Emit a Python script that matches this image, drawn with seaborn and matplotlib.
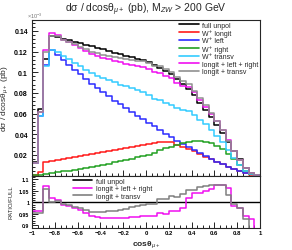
"""
Angular distribution of the mu+ in WZ events (M_ZW > 200 GeV) split by
W+ polarisation, with the ratio of the summed pieces to the full result.
"""
import numpy as np
import pandas as pd
import seaborn as sns
import matplotlib.pyplot as plt
from matplotlib.lines import Line2D
from matplotlib.ticker import MultipleLocator

# 40 bins in cos(theta_mu+)
EDGES = np.linspace(-1, 1, 41)
CENTERS = 0.5 * (EDGES[:-1] + EDGES[1:])

# cross sections per bin (pb)
full_unpol = [0.0128, 0.0640, 0.1130, 0.1355, 0.1340, 0.1325, 0.1310, 0.1295,
              0.1280, 0.1265, 0.1250, 0.1235, 0.1220, 0.1205, 0.1190, 0.1175,
              0.1160, 0.1145, 0.1130, 0.1115, 0.1095, 0.1070, 0.1045, 0.1015,
              0.0980, 0.0935, 0.0885, 0.0835, 0.0775, 0.0705, 0.0635, 0.0565,
              0.0490, 0.0410, 0.0325, 0.0240, 0.0155, 0.0075, 0.0023, 0.0005]
w_longit = [0.0004, 0.0030, 0.0134, 0.0140, 0.0148, 0.0157, 0.0166, 0.0176,
            0.0186, 0.0196, 0.0206, 0.0216, 0.0226, 0.0236, 0.0246, 0.0256,
            0.0266, 0.0276, 0.0286, 0.0296, 0.0308, 0.0318, 0.0325, 0.0327,
            0.0320, 0.0300, 0.0280, 0.0258, 0.0235, 0.0210, 0.0183, 0.0157,
            0.0132, 0.0108, 0.0085, 0.0062, 0.0040, 0.0020, 0.0007, 0.0001]
w_left = [0.0118, 0.0580, 0.1065, 0.1215, 0.1165, 0.1115, 0.1070, 0.1025,
          0.0980, 0.0935, 0.0890, 0.0847, 0.0805, 0.0765, 0.0725, 0.0688,
          0.0652, 0.0615, 0.0580, 0.0545, 0.0510, 0.0475, 0.0440, 0.0405,
          0.0370, 0.0335, 0.0302, 0.0272, 0.0243, 0.0215, 0.0188, 0.0160,
          0.0133, 0.0108, 0.0085, 0.0063, 0.0042, 0.0024, 0.0010, 0.0003]
w_right = [0.0002, 0.0005, 0.0015, 0.0022, 0.0030, 0.0040, 0.0048, 0.0058,
           0.0067, 0.0077, 0.0086, 0.0096, 0.0106, 0.0116, 0.0127, 0.0138,
           0.0150, 0.0162, 0.0175, 0.0188, 0.0203, 0.0218, 0.0245, 0.0262,
           0.0280, 0.0297, 0.0312, 0.0325, 0.0333, 0.0335, 0.0328, 0.0312,
           0.0288, 0.0255, 0.0212, 0.0160, 0.0100, 0.0048, 0.0015, 0.0003]
w_transv = [0.0118, 0.0580, 0.1064, 0.1215, 0.1199, 0.1159, 0.1128, 0.1093,
            0.1062, 0.1025, 0.0992, 0.0966, 0.0945, 0.0923, 0.0901, 0.0880,
            0.0862, 0.0844, 0.0826, 0.0808, 0.0779, 0.0745, 0.0734, 0.0701,
            0.0685, 0.0658, 0.0636, 0.0623, 0.0583, 0.0540, 0.0495, 0.0445,
            0.0385, 0.0320, 0.0245, 0.0170, 0.0100, 0.0045, 0.0012, 0.0003]
sum_llr = [0.01233, 0.0616, 0.1211, 0.1379, 0.1356, 0.1312, 0.1290, 0.1263,
           0.1235, 0.1204, 0.1175, 0.1157, 0.1139, 0.1123, 0.1108, 0.1094,
           0.1082, 0.1071, 0.1059, 0.1048, 0.1029, 0.1006, 0.0994, 0.0965,
           0.0942, 0.0899, 0.0864, 0.0852, 0.0806, 0.0733, 0.0667, 0.0599,
           0.0526, 0.0441, 0.0345, 0.0236, 0.0151, 0.00705, 0.00213, 0.00044]
sum_lt = [0.0122, 0.0610, 0.1198, 0.1355, 0.1347, 0.1316, 0.1294, 0.1269,
          0.1248, 0.1221, 0.1198, 0.1182, 0.1171, 0.1159, 0.1147, 0.1136,
          0.1128, 0.1120, 0.1112, 0.1104, 0.1087, 0.1063, 0.1059, 0.1028,
          0.1005, 0.0958, 0.0916, 0.0881, 0.0818, 0.0751, 0.0681, 0.0607,
          0.0527, 0.0441, 0.0335, 0.0238, 0.0151, 0.00694, 0.00198, 0.00041]

MAGENTA = '#f010f0'
MAIN_SERIES = [
    ('full unpol', full_unpol, 'black'),
    ('W\u207a longit', w_longit, '#ff1a1a'),
    ('W\u207a left', w_left, '#2b2bff'),
    ('W\u207a right', w_right, '#22a022'),
    ('W\u207a transv', w_transv, '#33ccff'),
    ('longit + left + right', sum_llr, MAGENTA),
    ('longit + transv', sum_lt, '#909090'),
]


def draw_hist(ax, values, color, lw=1.1):
    df = pd.DataFrame({'cos': CENTERS, 'w': np.asarray(values, dtype=float)})
    sns.histplot(data=df, x='cos', weights='w', bins=list(EDGES), element='step',
                 fill=False, color=color, linewidth=lw, ax=ax)


def style_axis(ax):
    ax.tick_params(which='both', direction='in', top=False, right=False,
                   width=0.6, colors='black')
    ax.tick_params(which='major', length=4)
    ax.tick_params(which='minor', length=2)
    for s in ax.spines.values():
        s.set_linewidth(0.8)
        s.set_visible(True)
    ax.set_xlim(-1, 1)
    ax.xaxis.set_major_locator(MultipleLocator(0.2))
    ax.xaxis.set_minor_locator(MultipleLocator(0.05))


sns.set_style('ticks')
plt.rcParams['font.family'] = ['Liberation Sans', 'DejaVu Sans']
plt.rcParams['mathtext.fontset'] = 'custom'
plt.rcParams['mathtext.rm'] = 'Liberation Sans'
plt.rcParams['mathtext.it'] = 'Liberation Sans:italic'
plt.rcParams['mathtext.bf'] = 'Liberation Sans:bold'

fig = plt.figure(figsize=(2.92, 2.51), dpi=100)
ax1 = fig.add_axes([0.1096, 0.2968, 0.7808, 0.6195])
ax2 = fig.add_axes([0.1096, 0.0896, 0.7808, 0.2072])

# main panel
for label, vals, color in MAIN_SERIES:
    draw_hist(ax1, vals, color)
style_axis(ax1)
ax1.set_ylim(0, 0.1505)
ax1.yaxis.set_minor_locator(MultipleLocator(0.004))
ax1.set_yticks([0.02, 0.04, 0.06, 0.08, 0.1, 0.12, 0.14])
ax1.set_yticklabels(['0.02', '0.04', '0.06', '0.08', '0.1', '0.12', '0.14'],
                    fontsize=5, fontweight='bold')
ax1.tick_params(axis='y', pad=3)
ax1.set_xticklabels([])
ax1.set_xlabel('')
ax1.set_ylabel('d\u03c3 / dcos\u03b8$_{\\mu+}$ (pb)', fontsize=6)
ax1.yaxis.set_label_coords(-0.098, 0.5)
ax1.text(-0.02, 1.003, '\u00d710$^{-3}$', transform=ax1.transAxes,
         fontsize=4, color='#777777', va='bottom', ha='left')

handles = [Line2D([], [], color=c, lw=1.2) for _, _, c in MAIN_SERIES]
labels = [lab for lab, _, _ in MAIN_SERIES]
ax1.legend(handles, labels, loc='upper left', bbox_to_anchor=(0.645, 0.99),
           frameon=False, fontsize=5, handlelength=2.8, handletextpad=0.45,
           labelspacing=0.08, borderaxespad=0, borderpad=0)

# ratio panel
ratio_llr = np.array(sum_llr) / np.array(full_unpol)
ratio_lt = np.array(sum_lt) / np.array(full_unpol)
ax2.axhline(1.0, color='black', lw=1.0)
draw_hist(ax2, ratio_llr, MAGENTA)
draw_hist(ax2, ratio_lt, '#808080')
style_axis(ax2)
ax2.set_ylim(0.89, 1.117)
ax2.set_yticks([0.9, 0.95, 1.0, 1.05, 1.1])
ax2.set_yticklabels(['0.9', '0.95', '1', '1.05', '1.1'], fontsize=3.8,
                    fontweight='bold')
ax2.yaxis.set_minor_locator(MultipleLocator(0.01))
ax2.set_xticks([-1, -0.8, -0.6, -0.4, -0.2, 0, 0.2, 0.4, 0.6, 0.8, 1])
ax2.set_xticklabels(['\u22121', '\u22120.8', '\u22120.6', '\u22120.4', '\u22120.2',
                     '0', '0.2', '0.4', '0.6', '0.8', '1'], fontsize=4.3,
                    fontweight='bold')
ax2.tick_params(axis='x', pad=2)
ax2.tick_params(axis='y', pad=2)
ax2.set_ylabel('RATIO/FULL', fontsize=4.2)
ax2.yaxis.set_label_coords(-0.082, 0.5)
ax2.set_xlabel('')
fig.text(0.5, 0.025, 'cos\u03b8$_{\\mu+}$', ha='center', va='center',
         fontsize=6, fontweight='bold')

r_handles = [Line2D([], [], color='black', lw=1.2),
             Line2D([], [], color=MAGENTA, lw=1.2),
             Line2D([], [], color='#808080', lw=1.2)]
ax2.legend(r_handles, ['full unpol', 'longit + left + right', 'longit + transv'],
           loc='upper left', bbox_to_anchor=(0.18, 0.96), frameon=False,
           fontsize=5, handlelength=2.8, handletextpad=0.45, labelspacing=0.08,
           borderaxespad=0, borderpad=0)

fig.text(0.5, 0.96, 'd\u03c3 / dcos\u03b8$_{\\mu+}$ (pb), M$_{ZW}$ > 200 GeV',
         ha='center', va='center', fontsize=7.5)

plt.savefig('out.png', dpi=100)
